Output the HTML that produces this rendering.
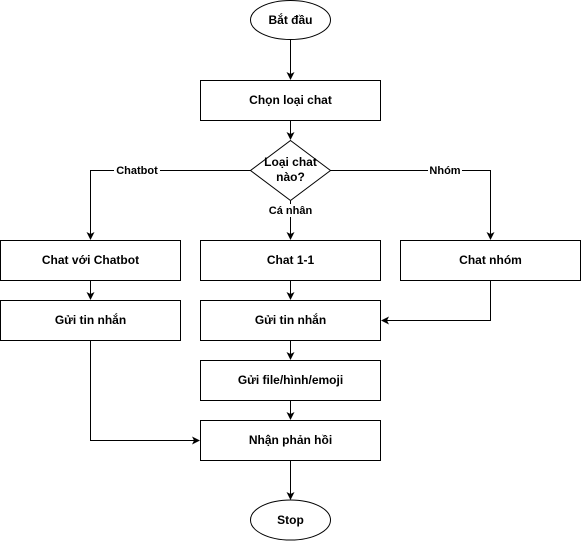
<!DOCTYPE html>
<html><head><meta charset="utf-8"><style>
html,body{margin:0;padding:0;background:#fff;width:581px;height:541px;overflow:hidden}
text{font-family:"Liberation Sans",Arial,sans-serif;font-size:12px;font-weight:bold;fill:#000}
.l{font-weight:bold;font-size:11px}
</style></head><body>
<svg width="581" height="541" viewBox="0 0 581 541" xmlns="http://www.w3.org/2000/svg">
<defs><marker id="a" markerWidth="8" markerHeight="8" refX="7" refY="4" orient="auto" markerUnits="userSpaceOnUse"><path d="M0,0 L8,4 L0,8 L2,4 Z" fill="#000"/></marker></defs>
<g fill="#fff" stroke="#000" stroke-width="1">
<ellipse cx="290.5" cy="20" rx="40" ry="19.5"/>
<rect x="200.5" y="80.5" width="180" height="40"/>
<polygon points="290.5,140.5 330.5,170.5 290.5,200.5 250.5,170.5"/>
<rect x="0.5" y="240.5" width="180" height="40"/>
<rect x="200.5" y="240.5" width="180" height="40"/>
<rect x="400.5" y="240.5" width="180" height="40"/>
<rect x="0.5" y="300.5" width="180" height="40"/>
<rect x="200.5" y="300.5" width="180" height="40"/>
<rect x="200.5" y="360.5" width="180" height="40"/>
<rect x="200.5" y="420.5" width="180" height="40"/>
<ellipse cx="290.5" cy="520" rx="40" ry="20"/>
</g>
<g fill="none" stroke="#000" stroke-width="1" marker-end="url(#a)">
<path d="M290.5 40 V79"/>
<path d="M290.5 121 V139"/>
<path d="M250.5 170.5 H90.5 V239"/>
<path d="M330.5 170.5 H490.5 V239"/>
<path d="M290.5 201 V239"/>
<path d="M90.5 281 V299"/>
<path d="M290.5 281 V299"/>
<path d="M490.5 281 V320.5 H382"/>
<path d="M290.5 341 V359"/>
<path d="M290.5 401 V419"/>
<path d="M90.5 341 V440.5 H199"/>
<path d="M290.5 461 V499"/>
</g>
<rect x="114" y="164" width="46" height="13" fill="#fff"/>
<text class="l" x="137" y="174" text-anchor="middle">Chatbot</text>
<rect x="428" y="164" width="34" height="13" fill="#fff"/>
<text class="l" x="445" y="174" text-anchor="middle">Nhóm</text>
<rect x="265" y="204" width="50" height="13" fill="#fff"/>
<text class="l" x="290.5" y="214" text-anchor="middle">Cá nhân</text>
<g text-anchor="middle">
<text x="290.5" y="24">Bắt đầu</text>
<text x="290.5" y="104">Chọn loại chat</text>
<text x="290.5" y="166">Loại chat</text>
<text x="290.5" y="181">nào?</text>
<text x="90.5" y="264">Chat với Chatbot</text>
<text x="290.5" y="264">Chat 1-1</text>
<text x="490.5" y="264">Chat nhóm</text>
<text x="90.5" y="324">Gửi tin nhắn</text>
<text x="290.5" y="324">Gửi tin nhắn</text>
<text x="290.5" y="384">Gửi file/hình/emoji</text>
<text x="290.5" y="444">Nhận phản hồi</text>
<text x="290.5" y="524">Stop</text>
</g>
</svg>
</body></html>
